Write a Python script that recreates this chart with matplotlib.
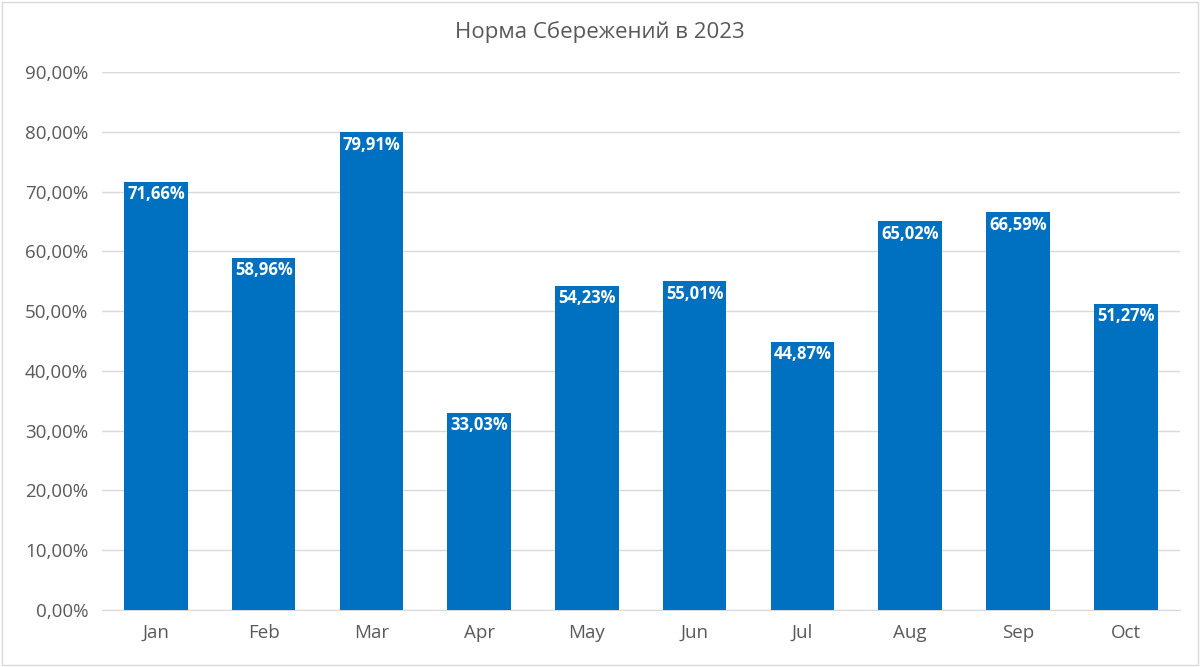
import matplotlib
matplotlib.use("Agg")
import matplotlib.pyplot as plt
from matplotlib.patches import Rectangle

months = ["Jan", "Feb", "Mar", "Apr", "May", "Jun", "Jul", "Aug", "Sep", "Oct"]
values = [71.66, 58.96, 79.91, 33.03, 54.23, 55.01, 44.87, 65.02, 66.59, 51.27]
yticks = [0, 10, 20, 30, 40, 50, 60, 70, 80, 90]

plt.rcParams['font.family'] = ['Open Sans', 'DejaVu Sans']
fig = plt.figure(figsize=(12, 6.67), dpi=100)
ax = fig.add_axes([0.085, 0.0855, 0.898, 0.8065])
x = range(len(months))
ax.bar(x, values, width=0.59, color="#0070C0", zorder=3)
for i, v in enumerate(values):
    ax.text(i, v - 0.6, f"{v:.2f}%".replace(".", ","), ha="center", va="top",
            color="white", fontsize=12, fontweight="bold", zorder=4)
ax.set_xlim(-0.5, len(months) - 0.5)
ax.set_ylim(0, 90)
ax.set_yticks(yticks)
ax.set_yticklabels([f"{t:.2f}%".replace(".", ",") for t in yticks])
ax.set_xticks(list(x))
ax.set_xticklabels(months)
ax.tick_params(axis="both", length=0, labelsize=13.5, colors="#595959", pad=10)
ax.grid(axis="y", color="#D9D9D9", linewidth=1, zorder=0)
for s in ["top", "right", "left"]:
    ax.spines[s].set_visible(False)
ax.spines["bottom"].set_color("#D9D9D9")
fig.text(0.5, 0.952, "Норма Сбережений в 2023", ha="center", va="center",
         fontsize=16, color="#595959")
fig.patches.append(Rectangle((0.002, 0.003), 0.996, 0.994, transform=fig.transFigure,
                             fill=False, edgecolor="#D9D9D9", linewidth=1))
fig.savefig("out.png", dpi=100)
